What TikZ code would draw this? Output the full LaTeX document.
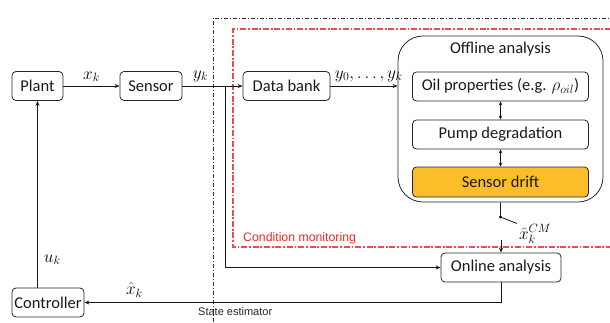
\documentclass[tikz,border=0pt]{standalone}
\usepackage{fontspec}
\setmainfont{Carlito}
\newfontfamily\arialfont{Liberation Sans}
\usetikzlibrary{arrows.meta}
\definecolor{driftfill}{RGB}{251,190,40}
\definecolor{cmred}{RGB}{240,75,75}
\definecolor{cmtext}{RGB}{238,40,40}
\definecolor{estgray}{RGB}{50,50,50}
\begin{document}
\begin{tikzpicture}[x=1pt,y=-1pt,
  blk/.style={draw=black!85,line width=0.8pt,rounded corners=4pt,inner sep=0pt,font=\fontsize{16.5}{18}\selectfont,text=black!90},
  conn/.style={line width=0.8pt,draw=black!90},
  arr/.style={conn,-{Stealth[length=5pt,width=4pt]}},
  darr/.style={conn,{Stealth[length=4pt,width=3.5pt]}-{Stealth[length=4pt,width=3.5pt]}},
  lbl/.style={font=\fontsize{18}{20}\selectfont,inner sep=0pt},
  estline/.style={draw=estgray,line width=0.7pt,dash pattern=on 4pt off 2pt on 1pt off 2pt},
  cmline/.style={draw=cmred,line width=1.1pt,dash pattern=on 6pt off 1.8pt on 1.8pt off 1.8pt}]
\useasboundingbox (0,0) rectangle (610,322);
% frames
\draw[estline] (213,322) -- (213,18) -- (612,18);
\draw[cmline] (612,247) -- (233,247) -- (233,29) -- (612,29);
\node[anchor=west,text=cmtext,font=\arialfont\fontsize{12.3}{14}\selectfont,inner sep=0pt] (cmlab) at (243,238) {Condition monitoring};
\node[anchor=west,text=black!85,font=\arialfont\fontsize{11}{13}\selectfont,inner sep=0pt] (selab) at (198,312) {State estimator};
% blocks
\node[blk,minimum width=51pt,minimum height=29pt] (plant) at (37.5,86) {Plant};
\node[blk,minimum width=62pt,minimum height=29pt] (sensor) at (151,86) {Sensor};
\node[blk,minimum width=87pt,minimum height=29pt] (bank) at (286.5,86) {Data bank};
\node[blk,rounded corners=25pt,minimum width=205pt,minimum height=166pt] (offline) at (500.5,119) {};
\node[lbl,font=\fontsize{16.5}{18}\selectfont,text=black!90] (offt) at (500.5,49) {Offline analysis};
\node[blk,minimum width=176pt,minimum height=29pt] (oil) at (500.5,86.5) {Oil properties (e.g. $\rho_{oil}$)};
\node[blk,minimum width=176pt,minimum height=29pt] (pump) at (500.5,134.5) {Pump degradation};
\node[blk,fill=driftfill,minimum width=176pt,minimum height=30pt] (drift) at (500.5,182) {Sensor drift};
\node[blk,minimum width=120pt,minimum height=29pt] (online) at (501,267.5) {Online analysis};
\node[blk,minimum width=72pt,minimum height=29pt] (ctrl) at (48,302.5) {Controller};
% connectors
\draw[arr] (plant.east) -- node[lbl,above=4pt] {$x_k$} (sensor.west);
\draw[arr] (sensor.east) -- node[lbl,pos=0.3,above=4pt] {$y_k$} (bank.west);
\coordinate (jn) at (225,86);
\draw[arr] (jn) |- (online.west);
\draw[arr] (bank.east) -- node[lbl,above=4pt,pos=0.57,font=\fontsize{17}{19}\selectfont] {$y_0,\ldots,y_k$} (bank.east -| offline.west);
\draw[darr] (oil.south) -- (pump.north);
\draw[darr] (pump.south) -- (drift.north);
\coordinate (sw) at (500.5,217);
\coordinate (swend) at (517,223.5);
\coordinate (swin) at (501,240);
\draw[conn] (offline.south) -- (sw) -- (swend);
\fill (sw) circle (1.6pt);
\node[lbl] (cmx) at (535,234) {$\widehat{x}_k^{CM}$};
\draw[arr] (swin) -- (online.north);
\draw[arr] (online.south) |- node[lbl,pos=0.94,above=5pt] {$\hat{x}_k$} (ctrl.east);
\coordinate (cu) at (37.5,288);
\draw[arr] (cu) -- node[lbl,pos=0.15,right=6pt] {$u_k$} (plant.south);
\end{tikzpicture}
\end{document}
